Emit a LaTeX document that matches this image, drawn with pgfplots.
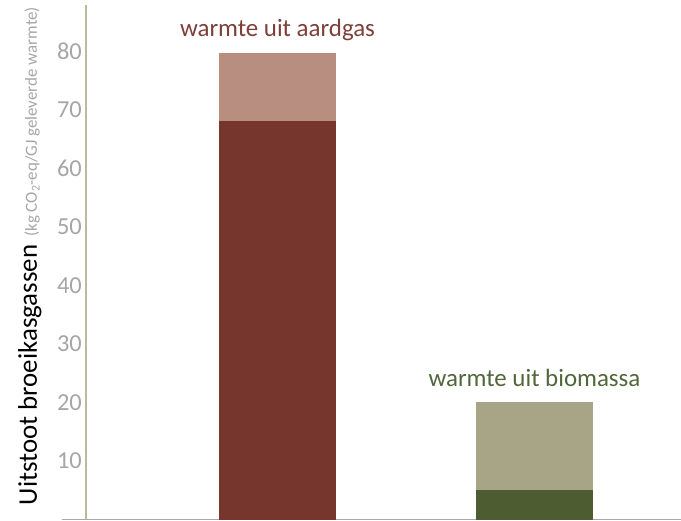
\documentclass[border=0pt]{standalone}
\usepackage{pgfplots}
\pgfplotsset{compat=1.18}
\usepackage{fontspec}
\setmainfont{Carlito}
\usetikzlibrary{calc}
\definecolor{gasdark}{HTML}{76352D}
\definecolor{gaslight}{HTML}{B88E80}
\definecolor{gastext}{HTML}{7D3F38}
\definecolor{biodark}{HTML}{4E5C32}
\definecolor{biolight}{HTML}{A8A486}
\definecolor{biotext}{HTML}{51663A}
\definecolor{ticktxt}{HTML}{A6A6A6}
\definecolor{yaxcol}{HTML}{BEB89C}
\definecolor{xaxcol}{HTML}{A8A8A8}
\begin{document}
\begin{tikzpicture}
\begin{axis}[
  name=ax,
  scale only axis,
  width=595bp, height=514.5bp,
  xmin=0, xmax=595, ymin=0, ymax=87.95,
  clip=false,
  axis x line=none,
  axis y line*=left,
  y axis line style={color=yaxcol, line width=1.2bp, -},
  ytick={10,20,...,80},
  major tick length=0pt,
  /pgf/number format/assume math mode=true,
  yticklabel style={font=\fontsize{24.5}{28}\selectfont, text=ticktxt, anchor=east, inner sep=0pt, xshift=-4bp},
  ybar stacked,
  bar width=117,
]
\addplot[fill=gasdark, draw=none] coordinates {(191.5,68.2) (448.5,0)};
\addplot[fill=biodark, draw=none] coordinates {(191.5,0) (448.5,5.0)};
\addplot[fill=gaslight, draw=none] coordinates {(191.5,11.6) (448.5,0)};
\addplot[fill=biolight, draw=none] coordinates {(191.5,0) (448.5,15.0)};
\draw[xaxcol, line width=1.2bp] (axis cs:-24,0) -- (axis cs:595,0);
\node[font=\fontsize{25}{28}\selectfont, text=gastext, anchor=base] at (axis cs:191.5,82.5) {warmte uit aardgas};
\node[font=\fontsize{25}{28}\selectfont, text=biotext, anchor=base] at (axis cs:448.5,22.65) {warmte uit biomassa};
\node[rotate=90, anchor=base west, inner sep=0pt] at (axis cs:-49,2.4)
  {\fontsize{27}{30}\selectfont Uitstoot broeikasgassen\hspace{0.3em}{\fontsize{17}{20}\selectfont\color{ticktxt}(kg CO\textsubscript{2}-eq/GJ geleverde warmte)}};
\end{axis}
\pgfresetboundingbox
\path[use as bounding box] ($(ax.south west)+(-86bp,-1.5bp)$) rectangle ($(ax.north east)+(0,5bp)$);
\end{tikzpicture}
\end{document}
